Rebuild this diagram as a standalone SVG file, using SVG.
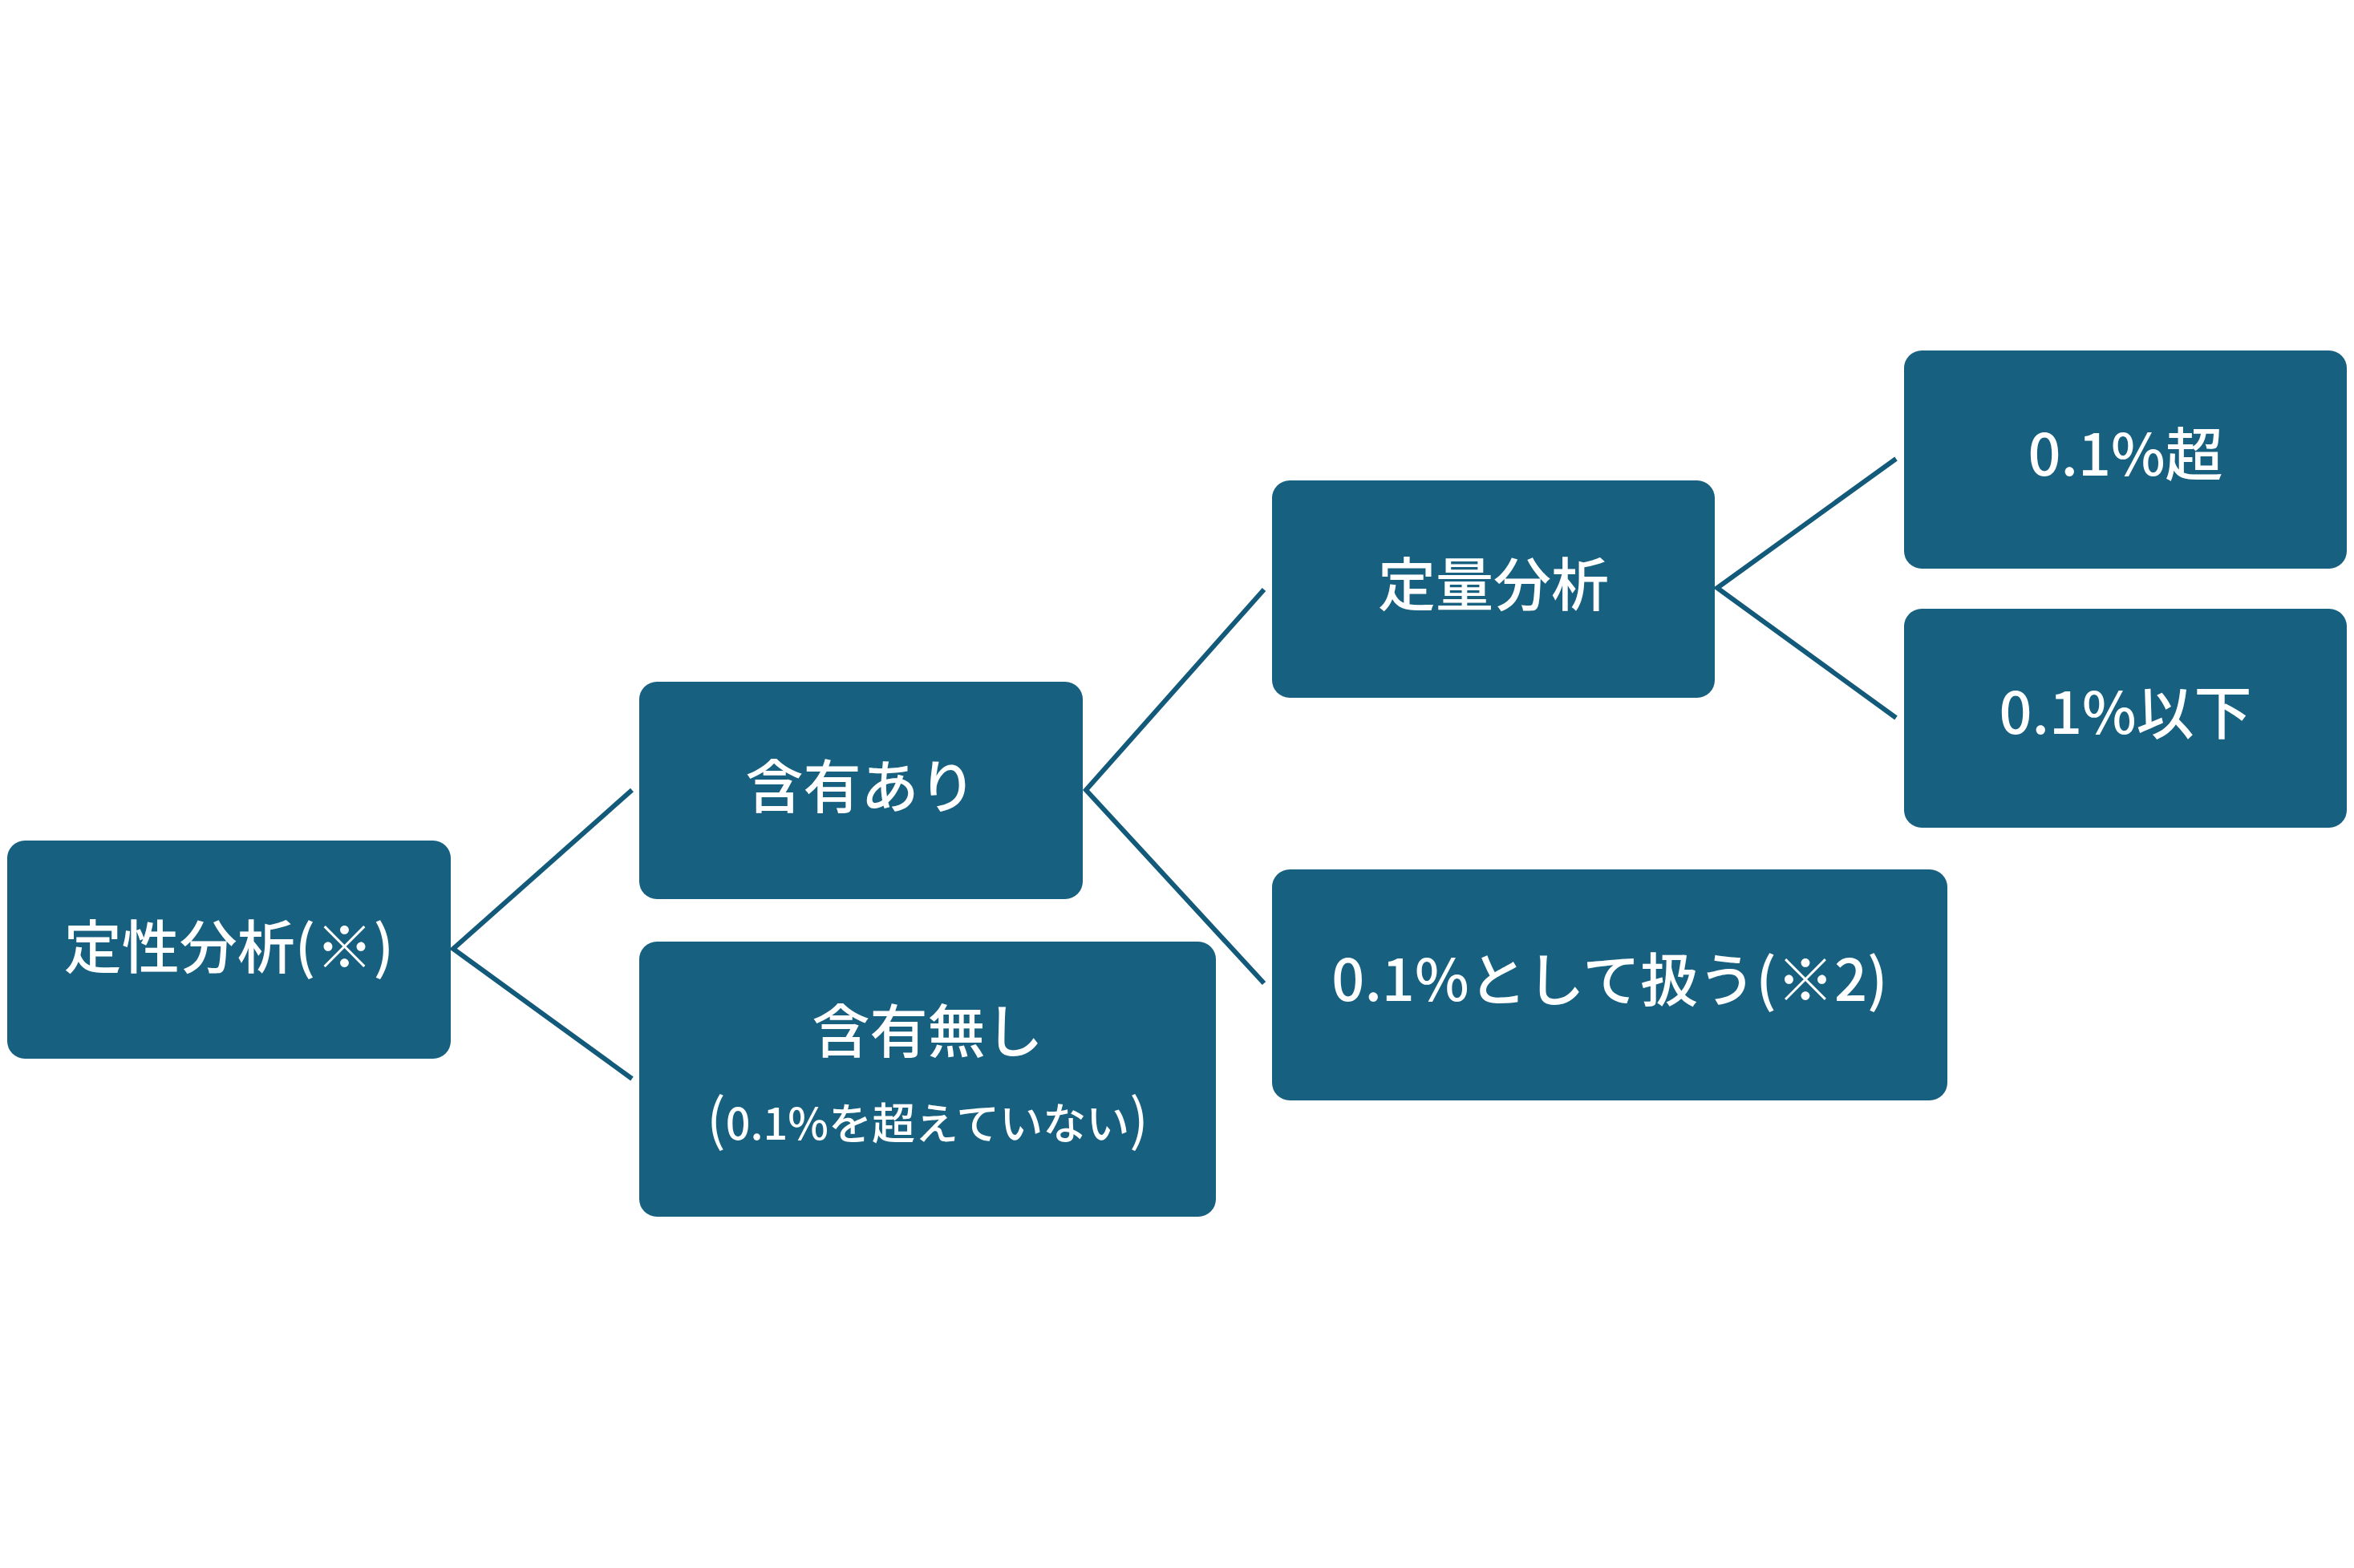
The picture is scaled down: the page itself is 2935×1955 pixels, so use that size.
<svg xmlns="http://www.w3.org/2000/svg" width="2935" height="1955" viewBox="0 0 2935 1955">
<style>
.box{fill:#18607F}
.lbl{fill:#FFFFFF;font-family:"Noto Sans CJK JP","Noto Sans CJK SC",sans-serif;font-weight:500;font-size:72px;text-anchor:middle}
.sub{font-size:54px}
.par{font-size:70px;font-weight:400}
.conn{fill:none;stroke:#135A7A;stroke-width:6;stroke-linejoin:miter}
</style>
<rect width="2935" height="1955" fill="#FFFFFF"/>
<g id="connectors">
<polyline class="conn" points="788,985 565,1183 788,1345"/>
<polyline class="conn" points="1576,735 1354,985 1576,1226"/>
<polyline class="conn" points="2364,572 2141,733 2364,895"/>
</g>
<g id="node-qualitative">
<rect class="box" x="9" y="1048" width="553" height="272" rx="22"/>
<text class="lbl" x="285.5" y="1207">定性分析(※)</text>
</g>
<g id="node-contained">
<rect class="box" x="797" y="850" width="553" height="271" rx="22"/>
<text class="lbl" x="1073.5" y="1007">含有あり</text>
</g>
<g id="node-not-contained">
<rect class="box" x="797" y="1174" width="719" height="343" rx="22"/>
<text class="lbl" x="1156.5" y="1312">含有無し</text>
<text class="lbl sub" x="1156.5" y="1421"><tspan class="par">(</tspan>0.1%を超えていない<tspan class="par">)</tspan></text>
</g>
<g id="node-quantitative">
<rect class="box" x="1586" y="599" width="552" height="271" rx="22"/>
<text class="lbl" x="1862" y="755">定量分析</text>
</g>
<g id="node-treat">
<rect class="box" x="1586" y="1084" width="842" height="288" rx="22"/>
<text class="lbl" x="2007" y="1248">0.1%として扱う(※2)</text>
</g>
<g id="node-over">
<rect class="box" x="2374" y="437" width="552" height="272" rx="22"/>
<text class="lbl" x="2650" y="593">0.1%超</text>
</g>
<g id="node-under">
<rect class="box" x="2374" y="759" width="552" height="273" rx="22"/>
<text class="lbl" x="2650" y="915">0.1%以下</text>
</g>
</svg>
